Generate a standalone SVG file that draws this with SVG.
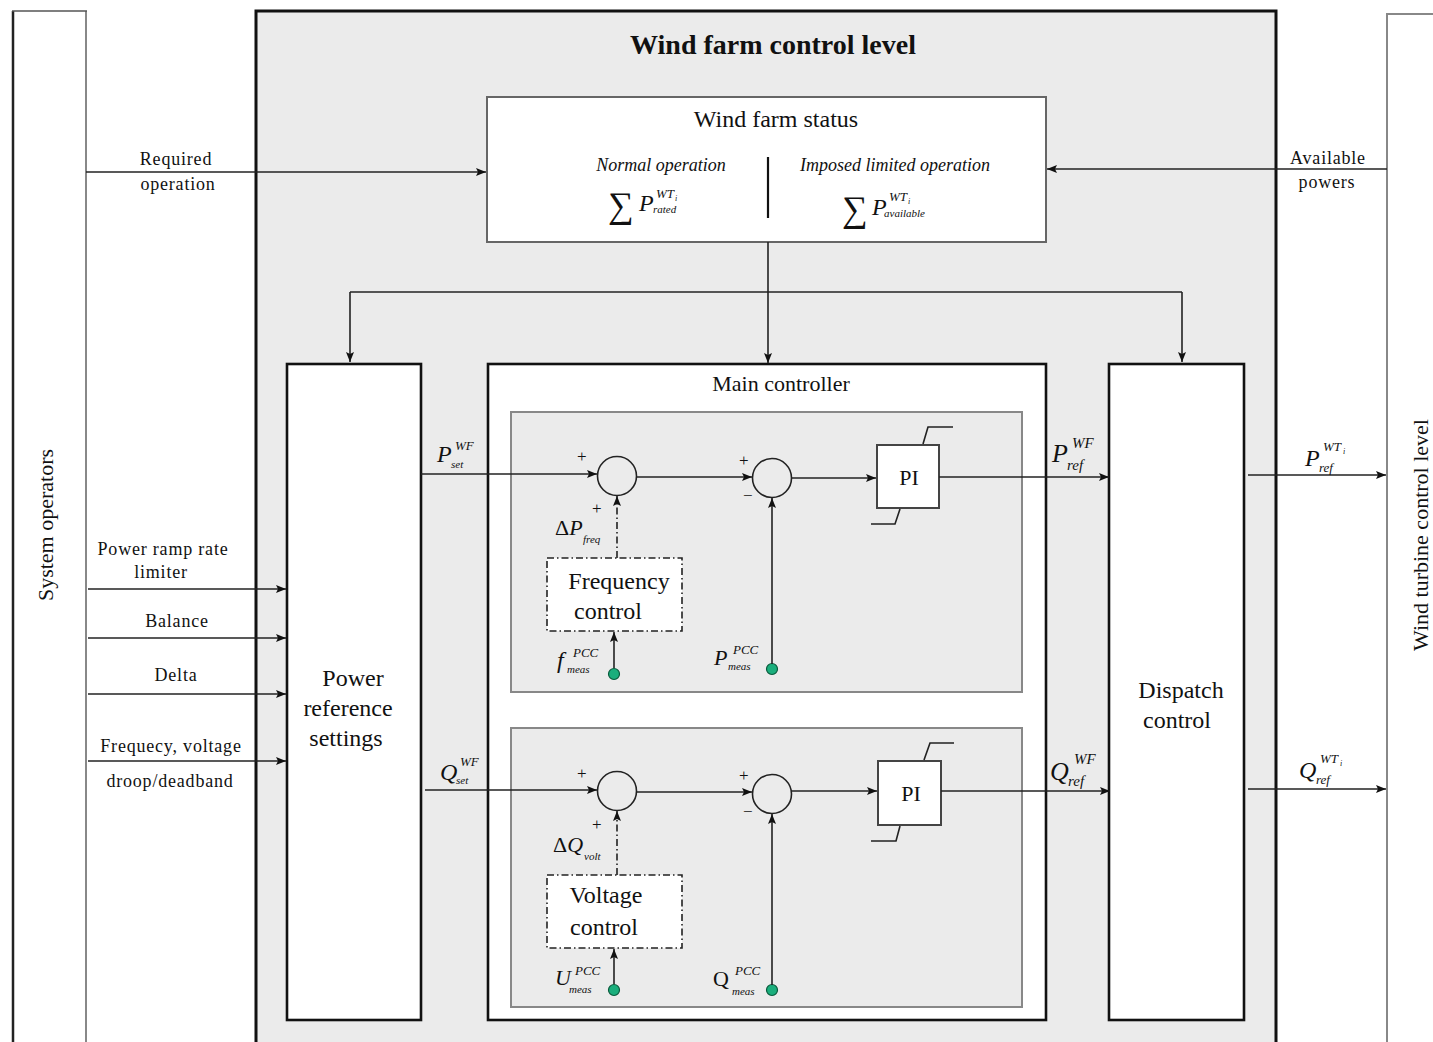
<svg xmlns="http://www.w3.org/2000/svg" width="1433" height="1042" viewBox="0 0 1433 1042">
<style>
text{font-family:"Liberation Serif","Times New Roman",serif;fill:#111}
.lbl{font-size:24px;text-anchor:middle}
.sm{font-size:18px;text-anchor:middle;letter-spacing:0.8px}
.it{font-style:italic}
.m{font-style:italic;font-size:24px}
.sp{font-style:italic;font-size:13px}
.ss{font-style:italic;font-size:11px}
.ln{stroke:#222;stroke-width:1.6;fill:none}
.dash{stroke:#222;stroke-width:1.6;fill:none;stroke-dasharray:7 3 1.5 3}
.blk{fill:#fff;stroke:#111;stroke-width:2.6}
.sub{fill:#ebebeb;stroke:#888;stroke-width:2}
.sum{fill:none;stroke:#222;stroke-width:1.6}
.dot{fill:#1aae7c;stroke:#0a5a3c;stroke-width:1.2}
</style>
<defs>
<marker id="ar" viewBox="0 0 10 8" refX="10" refY="4" markerWidth="10" markerHeight="8" markerUnits="userSpaceOnUse" orient="auto">
<path d="M0,0 L10,4 L0,8 L2,4 z" fill="#111"/>
</marker>
</defs>
<rect width="1433" height="1042" fill="#fff"/>

<g id="system-operators">
<line x1="13" y1="11" x2="13" y2="1042" stroke="#222" stroke-width="2.5"/>
<line x1="86" y1="11" x2="86" y2="1042" stroke="#888" stroke-width="2"/>
<line x1="12" y1="11" x2="87" y2="11" stroke="#555" stroke-width="1.5"/>
<text class="lbl" style="font-size:22px" transform="translate(53,525) rotate(-90)">System operators</text>
</g>

<g id="wt-control-level">
<line x1="1387" y1="14" x2="1387" y2="1042" stroke="#888" stroke-width="2"/>
<line x1="1386" y1="14" x2="1433" y2="14" stroke="#888" stroke-width="2"/>
<text class="lbl" style="font-size:22px" transform="translate(1428,535) rotate(-90)">Wind turbine control level</text>
</g>

<g id="wind-farm-control-level">
<rect x="256" y="11" width="1020" height="1060" fill="#ebebeb" stroke="#111" stroke-width="3"/>
<text x="773" y="54" style="font-size:28px;font-weight:bold;text-anchor:middle">Wind farm control level</text>
</g>

<g id="wind-farm-status">
<rect x="487" y="97" width="559" height="145" fill="#fff" stroke="#666" stroke-width="2"/>
<text class="lbl" x="776" y="127">Wind farm status</text>
<line x1="768" y1="157" x2="768" y2="218" stroke="#111" stroke-width="2.2"/>
<text class="it" x="661" y="171" style="font-size:18px;text-anchor:middle">Normal operation</text>
<text class="it" x="895" y="171" style="font-size:18px;text-anchor:middle">Imposed limited operation</text>
<text x="608" y="217" style="font-size:36px">∑</text>
<text class="m" x="639" y="211">P</text>
<text class="sp" x="656" y="198">WT</text>
<text class="ss" x="675" y="201" style="font-size:8px">i</text>
<text class="ss" x="653" y="213">rated</text>
<text x="842" y="221" style="font-size:36px">∑</text>
<text class="m" x="872" y="215">P</text>
<text class="sp" x="889" y="201">WT</text>
<text class="ss" x="908" y="204" style="font-size:8px">i</text>
<text class="ss" x="884" y="217">available</text>
</g>

<g id="power-reference-settings">
<rect class="blk" x="287" y="364" width="134" height="656"/>
<text class="lbl" x="353" y="686">Power</text>
<text class="lbl" x="348" y="716">reference</text>
<text class="lbl" x="346" y="746">settings</text>
</g>

<g id="main-controller">
<rect class="blk" x="488" y="364" width="558" height="656"/>
<text class="lbl" x="781" y="391" style="font-size:22px">Main controller</text>
<rect class="sub" x="511" y="412" width="511" height="280"/>
<rect class="sub" x="511" y="728" width="511" height="279"/>
</g>

<g id="dispatch-control">
<rect class="blk" x="1109" y="364" width="135" height="656"/>
<text class="lbl" x="1181" y="698">Dispatch</text>
<text class="lbl" x="1177" y="728">control</text>
</g>

<g id="frequency-control">
<rect class="dash" x="547" y="558" width="135" height="73" style="fill:#fff"/>
<text class="lbl" x="619" y="589">Frequency</text>
<text class="lbl" x="608" y="619">control</text>
</g>

<g id="voltage-control">
<rect class="dash" x="547" y="875" width="135" height="73" style="fill:#fff"/>
<text class="lbl" x="606" y="903">Voltage</text>
<text class="lbl" x="604" y="935">control</text>
</g>

<g id="sum-p1"><circle class="sum" cx="617" cy="476" r="19.5"/></g>
<g id="sum-p2"><circle class="sum" cx="772" cy="478" r="19.5"/></g>
<g id="sum-q1"><circle class="sum" cx="617" cy="791" r="19.5"/></g>
<g id="sum-q2"><circle class="sum" cx="772" cy="794" r="19.5"/></g>

<g id="pi-p">
<rect x="877" y="445" width="62" height="63" fill="#fff" stroke="#444" stroke-width="2"/>
<text class="lbl" x="909" y="485" style="font-size:22px">PI</text>
<polyline class="ln" points="923,444 928,427 953,427"/>
<polyline class="ln" points="900,509 895,524 871,524"/>
</g>

<g id="pi-q">
<rect x="878" y="761" width="63" height="64" fill="#fff" stroke="#444" stroke-width="2"/>
<text class="lbl" x="911" y="801" style="font-size:22px">PI</text>
<polyline class="ln" points="924,760 930,743 954,743"/>
<polyline class="ln" points="900,826 896,841 871,841"/>
</g>

<g id="meas-points">
<circle class="dot" cx="614" cy="674" r="5.5"/>
<circle class="dot" cx="772" cy="669" r="5.5"/>
<circle class="dot" cx="614" cy="990" r="5.5"/>
<circle class="dot" cx="772" cy="990" r="5.5"/>
</g>

<g id="connectors">
<line class="ln" x1="86" y1="172" x2="486" y2="172" marker-end="url(#ar)"/>
<line class="ln" x1="1387" y1="169" x2="1047" y2="169" marker-end="url(#ar)"/>
<line class="ln" x1="768" y1="242" x2="768" y2="363" marker-end="url(#ar)"/>
<line class="ln" x1="350" y1="292" x2="1182" y2="292"/>
<line class="ln" x1="350" y1="292" x2="350" y2="362" marker-end="url(#ar)"/>
<line class="ln" x1="1182" y1="292" x2="1182" y2="362" marker-end="url(#ar)"/>
<line class="ln" x1="88" y1="589" x2="286" y2="589" marker-end="url(#ar)"/>
<line class="ln" x1="88" y1="638" x2="286" y2="638" marker-end="url(#ar)"/>
<line class="ln" x1="88" y1="694" x2="286" y2="694" marker-end="url(#ar)"/>
<line class="ln" x1="88" y1="761" x2="286" y2="761" marker-end="url(#ar)"/>
<line class="ln" x1="421" y1="474" x2="597" y2="474" marker-end="url(#ar)"/>
<line class="ln" x1="636" y1="477" x2="752" y2="477" marker-end="url(#ar)"/>
<line class="ln" x1="792" y1="478" x2="876" y2="478" marker-end="url(#ar)"/>
<line class="ln" x1="939" y1="477" x2="1109" y2="477" marker-end="url(#ar)"/>
<line class="ln" x1="1248" y1="475" x2="1386" y2="475" marker-end="url(#ar)"/>
<line class="dash" x1="617" y1="558" x2="617" y2="496" marker-end="url(#ar)"/>
<line class="ln" x1="614" y1="668" x2="614" y2="632" marker-end="url(#ar)"/>
<line class="ln" x1="772" y1="664" x2="772" y2="498" marker-end="url(#ar)"/>
<line class="ln" x1="425" y1="790" x2="597" y2="790" marker-end="url(#ar)"/>
<line class="ln" x1="636" y1="792" x2="752" y2="792" marker-end="url(#ar)"/>
<line class="ln" x1="792" y1="791" x2="877" y2="791" marker-end="url(#ar)"/>
<line class="ln" x1="941" y1="791" x2="1110" y2="791" marker-end="url(#ar)"/>
<line class="ln" x1="1248" y1="789" x2="1386" y2="789" marker-end="url(#ar)"/>
<line class="dash" x1="617" y1="875" x2="617" y2="811" marker-end="url(#ar)"/>
<line class="ln" x1="614" y1="984" x2="614" y2="949" marker-end="url(#ar)"/>
<line class="ln" x1="772" y1="985" x2="772" y2="814" marker-end="url(#ar)"/>
</g>

<g id="labels">
<text class="sm" x="176" y="165">Required</text>
<text class="sm" x="178" y="190">operation</text>
<text class="sm" x="1328" y="164">Available</text>
<text class="sm" x="1327" y="188">powers</text>
<text class="sm" x="163" y="555">Power ramp rate</text>
<text class="sm" x="161" y="578">limiter</text>
<text class="sm" x="177" y="627">Balance</text>
<text class="sm" x="176" y="681">Delta</text>
<text class="sm" x="171" y="752">Frequecy, voltage</text>
<text class="sm" x="170" y="787">droop/deadband</text>

<text style="font-size:17px" x="577" y="462">+</text>
<text style="font-size:17px" x="592" y="514">+</text>
<text style="font-size:17px" x="739" y="466">+</text>
<text style="font-size:17px" x="743" y="501">−</text>
<text style="font-size:17px" x="577" y="779">+</text>
<text style="font-size:17px" x="592" y="830">+</text>
<text style="font-size:17px" x="739" y="781">+</text>
<text style="font-size:17px" x="743" y="817">−</text>

<text class="m" x="437" y="462">P</text>
<text class="sp" x="455" y="450">WF</text>
<text class="ss" x="451" y="468">set</text>

<text class="m" x="440" y="780">Q</text>
<text class="sp" x="460" y="766">WF</text>
<text class="ss" x="456" y="784">set</text>

<text x="555" y="535" style="font-size:22px">Δ<tspan class="it">P</tspan></text>
<text class="ss" x="583" y="543">freq</text>

<text x="553" y="852" style="font-size:22px">Δ<tspan class="it">Q</tspan></text>
<text class="ss" x="584" y="860">volt</text>

<text class="m" x="557" y="668">f</text>
<text class="sp" x="573" y="657">PCC</text>
<text class="ss" x="567" y="673">meas</text>

<text class="m" x="714" y="665" style="font-size:22px">P</text>
<text class="sp" x="733" y="654">PCC</text>
<text class="ss" x="728" y="670">meas</text>

<text class="m" x="555" y="985" style="font-size:22px">U</text>
<text class="sp" x="575" y="975">PCC</text>
<text class="ss" x="569" y="993">meas</text>

<text x="713" y="986" style="font-size:22px">Q</text>
<text class="sp" x="735" y="975">PCC</text>
<text class="ss" x="732" y="995">meas</text>

<text class="m" x="1052" y="462" style="font-size:26px">P</text>
<text class="sp" x="1072" y="448" style="font-size:15px">WF</text>
<text class="sp" x="1067" y="470" style="font-size:15px">ref</text>

<text class="m" x="1050" y="780" style="font-size:26px">Q</text>
<text class="sp" x="1074" y="764" style="font-size:15px">WF</text>
<text class="sp" x="1068" y="786" style="font-size:15px">ref</text>

<text class="m" x="1305" y="466">P</text>
<text class="sp" x="1323" y="451">WT</text>
<text class="ss" x="1343" y="454" style="font-size:8px">i</text>
<text class="sp" x="1319" y="472">ref</text>

<text class="m" x="1299" y="778">Q</text>
<text class="sp" x="1320" y="763">WT</text>
<text class="ss" x="1340" y="766" style="font-size:8px">i</text>
<text class="sp" x="1316" y="784">ref</text>
</g>
</svg>
